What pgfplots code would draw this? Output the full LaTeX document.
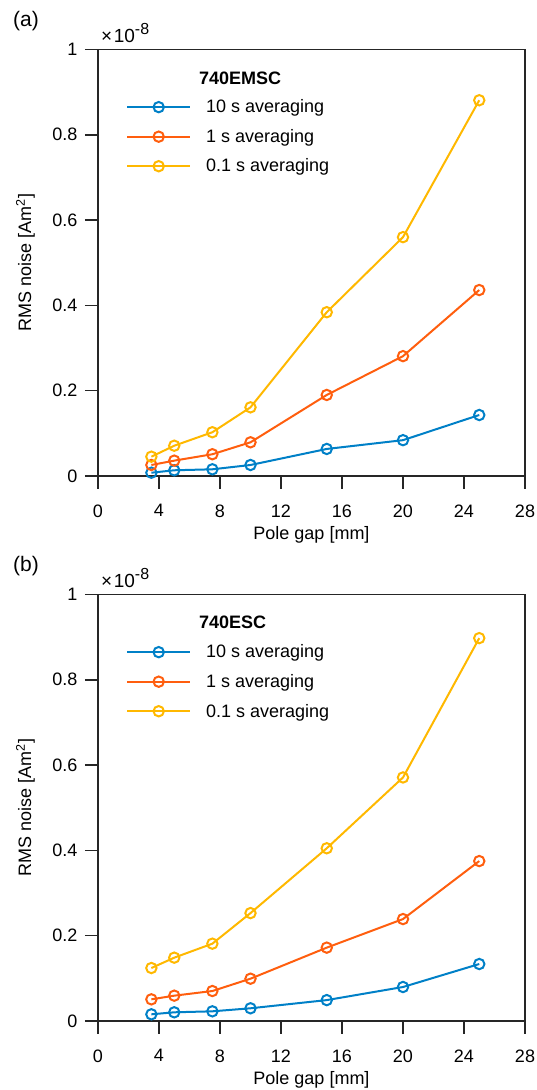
\documentclass[border=0pt]{standalone}
\usepackage{fontspec}
\setmainfont{Liberation Sans}
\usepackage{pgfplots}
\pgfplotsset{compat=1.18}
\definecolor{mblue}{RGB}{0,128,199}
\definecolor{morange}{RGB}{255,94,14}
\definecolor{myellow}{RGB}{255,184,0}
\definecolor{axgray}{RGB}{38,38,38}
\newcommand{\lf}{\fontsize{18bp}{21bp}\selectfont}
\newcommand{\tenpow}{{\fontsize{19bp}{21bp}\selectfont ×\kern1.5bp10\raisebox{8bp}{\fontsize{16bp}{17bp}\selectfont -8}}}
\pgfplotsset{
  panel/.style={
    scale only axis, width=427bp, height=426.5bp,
    xmin=0, xmax=28, ymin=0, ymax=1,
    xtick={0,4,...,28}, ytick={0,0.2,0.4,0.6,0.8,1},
    yticklabel={\pgfmathprintnumber[fixed,precision=1]{\tick}},
    tick align=outside, tick pos=left, major tick length=13bp,
    axis line style={line width=1.6bp, draw=axgray},
    major tick style={line width=1.6bp, draw=axgray},
    /pgf/number format/assume math mode=true,
    ticklabel style={font=\lf, text=black},
    xticklabel style={yshift=-12bp},
    yticklabel style={xshift=-4bp},
    xlabel={Pole gap [mm]}, ylabel={RMS noise [Am\textsuperscript{2}]},
    every axis x label/.style={at={(axis description cs:0.5,-0.138)}, anchor=center, font=\lf},
    every axis y label/.style={at={(axis description cs:-0.170,0.5)}, anchor=center, rotate=90, font=\lf},
    clip=false,
    legend image code/.code={\draw[mark repeat=2,mark phase=2,##1] plot coordinates {(0bp,0bp) (31.5bp,0bp) (63bp,0bp)};},
    legend cell align=left,
    legend style={draw=none, fill=none, at={(axis description cs:0.0586,0.887)}, anchor=north west,
      row sep=15bp, column sep=15bp, nodes={inner sep=0pt, font=\lf}},
  },
  ser/.style={color=#1, line width=2bp, mark=o, mark size=5.2bp, mark options={line width=2bp, solid}},
}
\pgfplotstableread{
x     b10     o1      y01
3.5   0.0077  0.0258  0.0453
5     0.0134  0.0360  0.0710
7.5   0.0157  0.0510  0.1026
10    0.0258  0.0790  0.1610
15    0.0634  0.1900  0.3840
20    0.0840  0.2810  0.5600
25    0.1430  0.4360  0.8810
}\dataA
\pgfplotstableread{
x     b10     o1      y01
3.5   0.0157  0.0508  0.1242
5     0.0204  0.0594  0.1485
7.5   0.0227  0.0703  0.1813
10    0.0298  0.0992  0.2530
15    0.0490  0.1720  0.4050
20    0.0797  0.2390  0.5710
25    0.1336  0.3750  0.8977
}\dataB
\begin{document}
\begin{tikzpicture}[font=\lf]
\useasboundingbox (-98bp,-69bp) rectangle (439bp,1021bp);
\begin{axis}[panel, at={(0bp,545bp)}]
  \addplot[ser=mblue] table[x=x,y=b10] {\dataA};
  \addlegendentry{10 s averaging}
  \addplot[ser=morange] table[x=x,y=o1] {\dataA};
  \addlegendentry{1 s averaging}
  \addplot[ser=myellow] table[x=x,y=y01] {\dataA};
  \addlegendentry{0.1 s averaging}
  \node[anchor=west, inner sep=0pt, font=\lf\bfseries] at (axis description cs:0.2365,0.9319) {740EMSC};
  \node[anchor=base west, inner sep=0pt] at ([xshift=3bp,yshift=7bp]axis description cs:0,1) {\tenpow};
\end{axis}
\begin{axis}[panel, at={(0bp,0bp)}]
  \addplot[ser=mblue] table[x=x,y=b10] {\dataB};
  \addlegendentry{10 s averaging}
  \addplot[ser=morange] table[x=x,y=o1] {\dataB};
  \addlegendentry{1 s averaging}
  \addplot[ser=myellow] table[x=x,y=y01] {\dataB};
  \addlegendentry{0.1 s averaging}
  \node[anchor=west, inner sep=0pt, font=\lf\bfseries] at (axis description cs:0.2365,0.934) {740ESC};
  \node[anchor=base west, inner sep=0pt] at ([xshift=3bp,yshift=7bp]axis description cs:0,1) {\tenpow};
\end{axis}
\node[font=\fontsize{21bp}{24bp}\selectfont] at (-72bp,1000bp) {(a)};
\node[font=\fontsize{21bp}{24bp}\selectfont] at (-72bp,455bp) {(b)};
\end{tikzpicture}
\end{document}
